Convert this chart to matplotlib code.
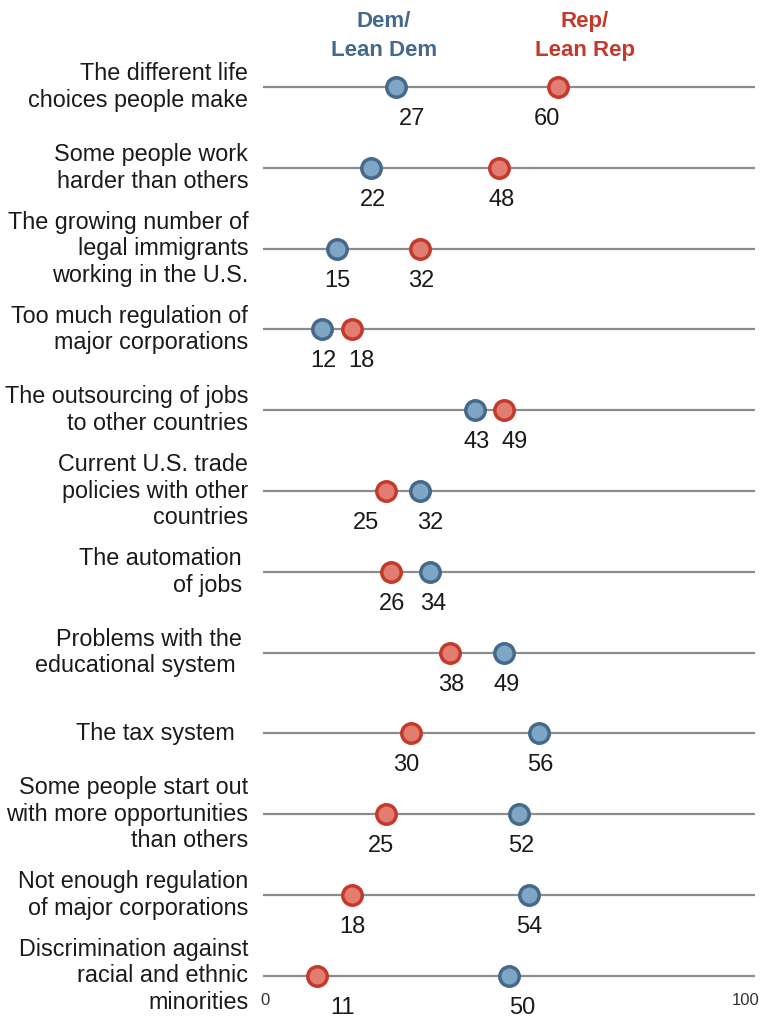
import matplotlib.pyplot as plt

plt.rcParams["font.family"] = ["Liberation Sans", "DejaVu Sans"]

# Reasons for economic inequality, % saying each contributes a great deal
labels = [
    "The different life\nchoices people make",
    "Some people work\nharder than others",
    "The growing number of\nlegal immigrants\nworking in the U.S.",
    "Too much regulation of\nmajor corporations",
    "The outsourcing of jobs\nto other countries",
    "Current U.S. trade\npolicies with other\ncountries",
    "The automation \nof jobs ",
    "Problems with the \neducational system  ",
    "The tax system  ",
    "Some people start out\nwith more opportunities\nthan others",
    "Not enough regulation\nof major corporations",
    "Discrimination against\nracial and ethnic\nminorities",
]
dem = [27, 22, 15, 12, 43, 32, 34, 49, 56, 52, 54, 50]
rep = [60, 48, 32, 18, 49, 25, 26, 38, 30, 25, 18, 11]

# horizontal nudges (pixels) of the value labels, as in the original layout
dem_dx = [16, 2, 1, 1, 2, 10, 3, 3, 2, 2, 1, 13]
rep_dx = [-11, 2, 1, 10, 11, -20, 1, 1, -4, -5, 1, 25]

DEM_FACE, DEM_EDGE = "#7fa6c4", "#44698a"
REP_FACE, REP_EDGE = "#e27d72", "#c4392a"
TEXT = "#1a1a1a"

fig = plt.figure(figsize=(7.75, 10.21), dpi=100)
ax = fig.add_axes([263 / 775, 0, 492 / 775, 1])
ax.set_xlim(0, 100)
ax.set_ylim((1021 - 87) / 80.8, -87 / 80.8)
ax.axis("off")

for i, lab in enumerate(labels):
    ax.plot([0, 100], [i, i], color="#8c8c8c", lw=1.6, zorder=1,
            solid_capstyle="butt")
    for val, dx, face, edge in [(dem[i], dem_dx[i], DEM_FACE, DEM_EDGE),
                                (rep[i], rep_dx[i], REP_FACE, REP_EDGE)]:
        ax.plot(val, i, "o", ms=14, mfc=face, mec=edge, mew=2.5, zorder=3)
        ax.annotate(str(val), (val, i), xytext=(dx, -32),
                    textcoords="offset pixels", ha="center", va="center",
                    fontsize=17, color=TEXT)
    ax.text(-3, i, lab, ha="right", va="center", fontsize=16.8,
            linespacing=1.2, color=TEXT)

# column headers above first row
ax.text(24.6, -0.63, "Dem/\nLean Dem", ha="center", va="center",
        fontsize=16, fontweight="bold", color=DEM_EDGE, linespacing=1.45)
ax.text(65.4, -0.63, "Rep/\nLean Rep", ha="center", va="center",
        fontsize=16, fontweight="bold", color=REP_EDGE, linespacing=1.45)

# scale ends
ax.text(0.4, 11.3, "0", ha="center", va="center", fontsize=12, color="#333333")
ax.text(98, 11.3, "100", ha="center", va="center", fontsize=12,
        color="#333333")

fig.savefig("out.png", dpi=100)
